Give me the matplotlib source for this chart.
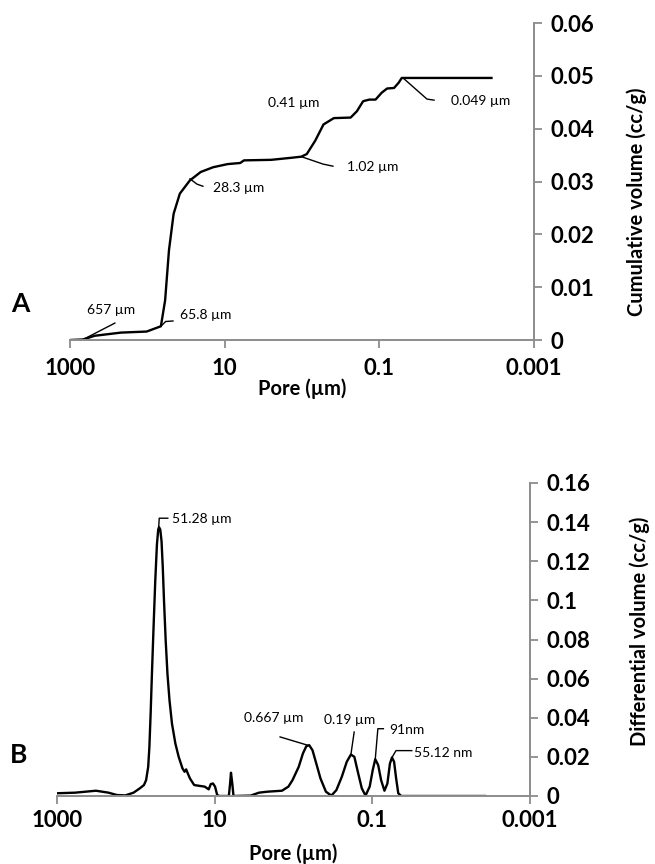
import matplotlib
matplotlib.use("Agg")
import matplotlib.pyplot as plt

plt.rcParams['font.family'] = ['Lato', 'DejaVu Sans']

# ---------------- Data: cumulative intrusion (panel A) ----------------
cum_pore = [1000, 676, 480, 219, 102, 66.8, 58.9, 52.5, 45.7, 38.0, 28.2, 20.4,
            14.1, 9.12, 6.31, 5.62, 2.51, 1.35, 1.02, 0.867, 0.676, 0.527, 0.387,
            0.235, 0.195, 0.162, 0.135, 0.112, 0.0933, 0.0794, 0.0646, 0.0562,
            0.0513, 0.0437, 0.00355]
cum_vol = [0.0, 0.0001, 0.0008, 0.0014, 0.0016, 0.0026, 0.0075, 0.017, 0.0239,
           0.0277, 0.0302, 0.0318, 0.0327, 0.0333, 0.0335, 0.034, 0.0341, 0.0345,
           0.0347, 0.0352, 0.0377, 0.0408, 0.042, 0.0421, 0.0433, 0.0452, 0.0455,
           0.0455, 0.0468, 0.0476, 0.0477, 0.0487, 0.0496, 0.0496, 0.0496]

# ---------------- Data: differential intrusion (panel B) ----------------
dif_pore = [1000, 589, 321, 222, 174, 136, 107, 89.1, 78.9, 74.1, 69.7, 67.3, 64.9,
            62.5, 59.6, 56.7, 54.0, 52.0, 50.8, 49.0, 47.2, 45.5, 43.9, 41.8, 39.7,
            37.4, 34.8, 31.5, 28.6, 25.6, 24.1, 23.0, 21.9, 20.6, 18.2, 15.1, 13.4,
            11.9, 11.2, 10.5, 9.89, 9.29, 8.7, 6.61, 6.37, 6.21, 5.98, 5.77, 3.50,
            2.74, 2.15, 1.40, 1.16, 1.03, 0.859, 0.760, 0.689, 0.633, 0.574, 0.514,
            0.455, 0.388, 0.331, 0.286, 0.244, 0.211, 0.187, 0.169, 0.151, 0.136,
            0.122, 0.108, 0.0989, 0.0918, 0.0843, 0.0774, 0.0702, 0.0644, 0.0598,
            0.0563, 0.053, 0.0499, 0.0469, 0.0430, 0.00372]
dif_vol = [0.0014, 0.0017, 0.0027, 0.0017, 0.0005, 0.0003, 0.0017, 0.0039, 0.0056,
           0.0081, 0.0149, 0.0251, 0.0421, 0.0624, 0.0862, 0.110, 0.1286, 0.1362,
           0.1374, 0.1362, 0.1303, 0.1167, 0.0997, 0.0794, 0.0624, 0.0489, 0.0370,
           0.0268, 0.0200, 0.0141, 0.0124, 0.0136, 0.0115, 0.009, 0.0056, 0.0051,
           0.0048, 0.0034, 0.0061, 0.0064, 0.0048, 0.0005, 0.0, 0.0, 0.0064, 0.0119,
           0.0064, 0.0, 0.0002, 0.0017, 0.0022, 0.0027, 0.0048, 0.0081, 0.0149,
           0.0217, 0.0254, 0.026, 0.0234, 0.0166, 0.009, 0.0022, 0.0002, 0.003,
           0.0098, 0.0175, 0.0212, 0.020, 0.0115, 0.0039, 0.0002, 0.0048, 0.0132,
           0.0188, 0.0158, 0.0081, 0.0027, 0.0064, 0.0166, 0.0197, 0.0175, 0.009,
           0.0014, 0.0, 0.0]

# ---------------- Axis ticks ----------------
x_ticks = [1000, 10, 0.1, 0.001]
x_ticklabels = ['1000', '10', '0.1', '0.001']
yA_ticks = [0, 0.01, 0.02, 0.03, 0.04, 0.05, 0.06]
yA_ticklabels = ['0', '0.01', '0.02', '0.03', '0.04', '0.05', '0.06']
yB_ticks = [0, 0.02, 0.04, 0.06, 0.08, 0.1, 0.12, 0.14, 0.16]
yB_ticklabels = ['0', '0.02', '0.04', '0.06', '0.08', '0.1', '0.12', '0.14', '0.16']

# ---------------- Annotations: (text, text_x, text_y, leader_x, leader_y) ----
annA = [
    ('657 µm', 603, 0.0057, [676, 263], [0.0001, 0.0032]),
    ('65.8 µm', 38, 0.0047, [65.8, 58, 46.6], [0.0027, 0.0035, 0.0036]),
    ('28.3 µm', 14.1, 0.0288, [28.1, 22.8, 19.1], [0.0305, 0.0295, 0.0291]),
    ('1.02 µm', 0.262, 0.0327, [1.02, 0.535, 0.398], [0.0347, 0.0333, 0.0329]),
    ('0.41 µm', 2.75, 0.0449, [], []),
    ('0.049 µm', 0.0117, 0.0452, [0.0494, 0.0242, 0.0196], [0.0496, 0.0456, 0.0454]),
]
annB = [
    ('51.28 µm', 34.7, 0.1415, [51.28, 50.5, 39.3], [0.1374, 0.142, 0.142]),
    ('0.667 µm', 4.2, 0.0399, [1.48, 0.667], [0.0302, 0.026]),
    ('0.19 µm', 0.412, 0.0387, [0.187, 0.17], [0.0212, 0.0327]),
    ('91nm', 0.0603, 0.0336, [0.0918, 0.0851, 0.0724], [0.0188, 0.0344, 0.0344]),
    ('55.12 nm', 0.0299, 0.0222, [0.0563, 0.0501, 0.0316], [0.0197, 0.0232, 0.0232]),
]

GRAY = '#8c8c8c'

fig = plt.figure(figsize=(6.55, 8.64), dpi=100)
axA = fig.add_axes([70/655, 1-340/864, 464/655, 317/864])
axB = fig.add_axes([57/655, 1-796/864, 473/655, 313/864])


def style(ax, yticks, yticklabels, ylim, ylabel, xlab_y, ylab_xy, xpad):
    ax.set_xscale('log')
    ax.set_xlim(1000, 0.001)
    ax.set_ylim(*ylim)
    ax.set_xticks(x_ticks)
    ax.set_xticklabels(x_ticklabels)
    ax.xaxis.set_minor_locator(matplotlib.ticker.NullLocator())
    ax.set_yticks(yticks)
    ax.set_yticklabels(yticklabels)
    for s in ['top', 'left']:
        ax.spines[s].set_visible(False)
    for s in ['right', 'bottom']:
        ax.spines[s].set_color(GRAY)
        ax.spines[s].set_linewidth(1.4)
    ax.yaxis.tick_right()
    ax.tick_params(axis='both', which='major', direction='out', length=6,
                   width=1.3, color=GRAY, labelsize=16)
    ax.tick_params(axis='y', pad=6)
    ax.tick_params(axis='x', pad=xpad)
    for lab in ax.get_xticklabels() + ax.get_yticklabels():
        lab.set_fontweight('bold')
    ax.set_xlabel('Pore (µm)', fontsize=14.5, fontweight='bold')
    ax.xaxis.set_label_coords(0.5, xlab_y)
    ax.yaxis.set_label_position('right')
    ax.set_ylabel(ylabel, fontsize=14.5, fontweight='bold', rotation=90,
                  va='center', ha='center')
    ax.yaxis.set_label_coords(*ylab_xy)


style(axA, yA_ticks, yA_ticklabels, (0, 0.06), 'Cumulative volume (cc/g)',
      -0.12, (1.222, 0.435), 7)
style(axB, yB_ticks, yB_ticklabels, (0, 0.16), 'Differential volume (cc/g)',
      -0.15, (1.233, 0.527), 4)

axA.plot(cum_pore, cum_vol, color='black', lw=1.7, solid_joinstyle='round')
axB.plot(dif_pore, dif_vol, color='black', lw=1.7, solid_joinstyle='round')

for ax, anns in ((axA, annA), (axB, annB)):
    for txt, tx, ty, lx, ly in anns:
        ax.text(tx, ty, txt, fontsize=10, ha='left', va='center', color='black')
        if lx:
            ax.plot(lx, ly, color='black', lw=1.0)

fig.text(20/655, 1-304/864, 'A', fontsize=19, fontweight='bold', ha='center', va='center')
fig.text(19/655, 1-755/864, 'B', fontsize=19, fontweight='bold', ha='center', va='center')

fig.savefig('out.png', dpi=100)
